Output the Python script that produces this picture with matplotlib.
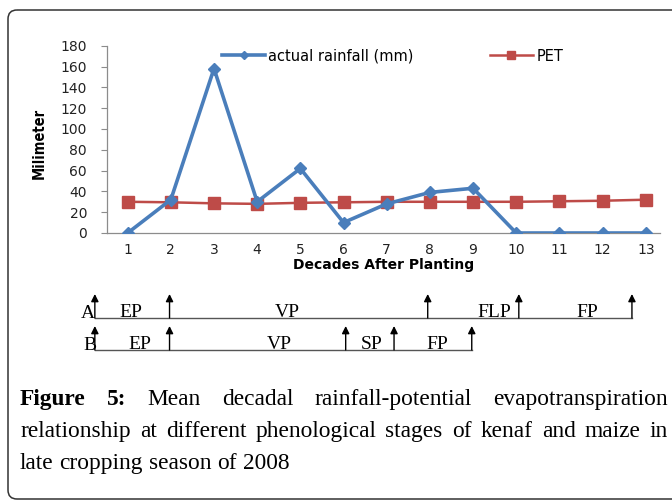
import matplotlib
matplotlib.use("Agg")
import matplotlib.pyplot as plt
from matplotlib.patches import FancyBboxPatch
from matplotlib.transforms import blended_transform_factory

# data
decades = list(range(1, 14))
rainfall = [0, 32, 158, 30, 62, 10, 28, 39, 43, 0, 0, 0, 0]
pet = [30, 29.5, 28.5, 28, 29, 29.5, 30, 30, 30, 30, 30.5, 31, 32]

# phenological stages (in decades after planting)
bounds_a = [0.24, 1.97, 7.95, 10.06, 12.68]
stages_a = ["EP", "VP", "FLP", "FP"]
label_pos_a = [1.07, 4.69, 9.5, 11.64]
bounds_b = [0.24, 1.97, 6.05, 7.17, 8.97]
stages_b = ["EP", "VP", "SP", "FP"]
label_pos_b = [1.28, 4.52, 6.66, 8.16]

caption_lines = [
    [("Figure", True), ("5:", True), ("Mean", False), ("decadal", False),
     ("rainfall-potential", False), ("evapotranspiration", False)],
    [(w, False) for w in "relationship at different phenological stages of kenaf and maize in".split()],
    [(w, False) for w in "late cropping season of 2008".split()],
]

blue = "#4A7EBB"
red = "#BE4B48"
grey = "#8C8C8C"

fig = plt.figure(figsize=(6.72, 5.04), dpi=100)
W, H = 672, 504

# overlay in pixel coordinates
bg = fig.add_axes([0, 0, 1, 1])
bg.set_xlim(0, W)
bg.set_ylim(H, 0)
bg.axis("off")
bg.patch.set_visible(False)
bg.add_patch(FancyBboxPatch((8, 10), 700, 489, boxstyle="round,pad=0,rounding_size=9",
                            fc="none", ec="#333333", lw=1.1, clip_on=False))

# main chart
ax = fig.add_axes([106.5 / W, 1 - 233 / H, 553.5 / W, 187.3 / H])
ax.plot(decades, rainfall, color=blue, lw=2.6, marker="D", ms=6.5,
        label="actual rainfall (mm)", zorder=3)
ax.plot(decades, pet, color=red, lw=1.8, marker="s", ms=8.5,
        label="PET", zorder=2)
ax.set_xlim(0.51, 13.33)
ax.set_ylim(0, 180)
ax.set_yticks(range(0, 181, 20))
ax.set_xticks(decades)
for s in ["top", "right"]:
    ax.spines[s].set_visible(False)
for s in ["left", "bottom"]:
    ax.spines[s].set_color(grey)
    ax.spines[s].set_linewidth(0.9)
ax.tick_params(axis="y", length=4, color=grey, labelsize=10, pad=10, labelcolor="#222222")
ax.tick_params(axis="x", length=0, labelsize=10, pad=7, labelcolor="#222222")
ax.set_ylabel("Milimeter", family="DejaVu Sans", fontstretch="condensed",
              fontweight="bold", fontsize=10.5)
ax.yaxis.set_label_coords(-0.108, 0.48)
ax.set_xlabel("Decades After Planting", fontweight="bold", fontsize=10, labelpad=1)
ax.patch.set_visible(False)
ax.legend(loc="center left", bbox_to_anchor=(0.208, 0.945), ncol=2, frameon=False,
          fontsize=10.5, handlelength=3.0, handletextpad=0.2, columnspacing=5.2,
          borderpad=0, borderaxespad=0, markerscale=0.7)

# phenology diagram: x from decades, y in pixels
tr = blended_transform_factory(ax.transData, bg.transData)
serif = "Liberation Serif"


def stage_row(bounds, stages, label_pos, letter, letter_x, base_y):
    bg.plot([bounds[0], bounds[-1]], [base_y, base_y], color="#555555", lw=1.0,
            transform=tr, clip_on=False)
    for b in bounds:
        bg.annotate("", xy=(b, base_y - 24), xytext=(b, base_y), xycoords=tr, textcoords=tr,
                    arrowprops=dict(arrowstyle="-|>", color="black", lw=1.0,
                                    mutation_scale=11, shrinkA=0, shrinkB=0))
    bg.text(letter_x, base_y, letter, transform=tr, ha="center", va="baseline",
            family=serif, fontsize=14)
    for name, x in zip(stages, label_pos):
        bg.text(x, base_y - 1, name, transform=tr, ha="center", va="baseline",
                family=serif, fontsize=14)


stage_row(bounds_a, stages_a, label_pos_a, "A", 0.08, 318)
stage_row(bounds_b, stages_b, label_pos_b, "B", 0.12, 350)

# caption, first two lines justified
fig.canvas.draw()
renderer = fig.canvas.get_renderer()
x0, x1 = 20, 668
baselines = [405, 437, 469]
fs = 16.8
for i, (words, yb) in enumerate(zip(caption_lines, baselines)):
    texts = []
    for w, bold in words:
        t = bg.text(0, yb, w, family=serif, fontsize=fs, va="baseline", ha="left",
                    fontweight="bold" if bold else "normal")
        texts.append(t)
    widths = [t.get_window_extent(renderer).width for t in texts]
    if i < 2:
        gap = (x1 - x0 - sum(widths)) / (len(words) - 1)
    else:
        sp = bg.text(0, 0, "a a", family=serif, fontsize=fs)
        sp2 = bg.text(0, 0, "aa", family=serif, fontsize=fs)
        gap = sp.get_window_extent(renderer).width - sp2.get_window_extent(renderer).width
        sp.remove()
        sp2.remove()
    x = x0
    for t, w in zip(texts, widths):
        t.set_x(x)
        x += w + gap

fig.savefig("out.png", dpi=100)
